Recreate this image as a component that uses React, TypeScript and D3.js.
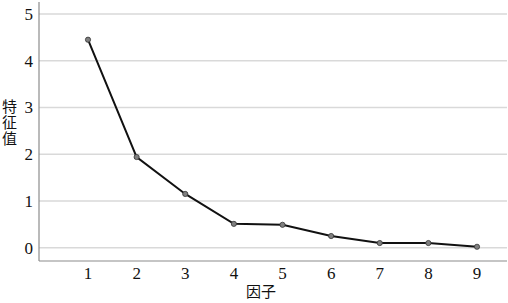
import { useRef, useEffect } from 'react';
import * as d3 from 'd3';

const factors = [1, 2, 3, 4, 5, 6, 7, 8, 9];
const eigenvalues = [4.45, 1.94, 1.15, 0.51, 0.49, 0.25, 0.1, 0.1, 0.02];
const yTicks = [0, 1, 2, 3, 4, 5];
const yTitle = '特征值';
const xTitle = '因子';

export default function App() {
  const svgRef = useRef<SVGSVGElement | null>(null);

  useEffect(() => {
    if (!svgRef.current) return;
    const svg = d3.select(svgRef.current);
    svg.selectAll('*').remove();

    const W = 508, H = 303;
    const left = 39, right = 507, top = 2, bottom = 261;
    const num = 'Liberation Serif';
    const cjk = 'Noto Sans CJK SC';

    const x = d3.scaleLinear().domain([1, 9]).range([88, 477]);
    const y = d3.scaleLinear().domain([0, 5]).range([247.7, 14]);

    // grid
    svg.append('g').selectAll('line').data(yTicks).enter().append('line')
      .attr('x1', left).attr('x2', right)
      .attr('y1', d => y(d)).attr('y2', d => y(d))
      .attr('stroke', '#d9d9d9').attr('stroke-width', 1.5);

    // axes
    svg.append('line').attr('x1', left).attr('x2', left).attr('y1', top).attr('y2', bottom)
      .attr('stroke', '#8c8c8c').attr('stroke-width', 1.2);
    svg.append('line').attr('x1', left).attr('x2', right).attr('y1', bottom).attr('y2', bottom)
      .attr('stroke', '#8c8c8c').attr('stroke-width', 1.2);

    const yLab = svg.append('g').style('font-family', num).style('font-size', '17px');
    yLab.selectAll('text').data(yTicks).enter().append('text')
      .attr('x', 33).attr('y', d => y(d)).attr('dy', '0.35em')
      .attr('text-anchor', 'end').attr('fill', '#111').text(d => String(d));

    const xLab = svg.append('g').style('font-family', num).style('font-size', '17px');
    xLab.selectAll('text').data(factors).enter().append('text')
      .attr('x', d => x(d)).attr('y', 279)
      .attr('text-anchor', 'middle').attr('fill', '#111').text(d => String(d));

    // titles
    svg.append('text').attr('x', 9.5).attr('y', 123)
      .attr('text-anchor', 'middle')
      .style('writing-mode', 'vertical-rl').style('text-orientation', 'upright')
      .style('font-family', cjk).style('font-size', '15px').attr('letter-spacing', 1)
      .attr('fill', '#111').text(yTitle);

    svg.append('text').attr('x', 261).attr('y', 297)
      .attr('text-anchor', 'middle').style('font-family', cjk).style('font-size', '15px')
      .attr('fill', '#111').text(xTitle);

    // line + points
    const pts = factors.map((f, i) => [f, eigenvalues[i]] as [number, number]);
    const line = d3.line<[number, number]>().x(d => x(d[0])).y(d => y(d[1]));
    svg.append('path').datum(pts).attr('d', line)
      .attr('fill', 'none').attr('stroke', '#111').attr('stroke-width', 2);

    svg.append('g').selectAll('circle').data(pts).enter().append('circle')
      .attr('cx', d => x(d[0])).attr('cy', d => y(d[1])).attr('r', 2.6)
      .attr('fill', '#7f7f7f').attr('stroke', '#333').attr('stroke-width', 0.8);

    svg.attr('width', W).attr('height', H);
  }, []);

  return (
    <div style={{ position: 'fixed', left: 0, top: 0, background: '#fff' }}>
      <svg ref={svgRef} style={{ display: 'block' }} />
    </div>
  );
}
